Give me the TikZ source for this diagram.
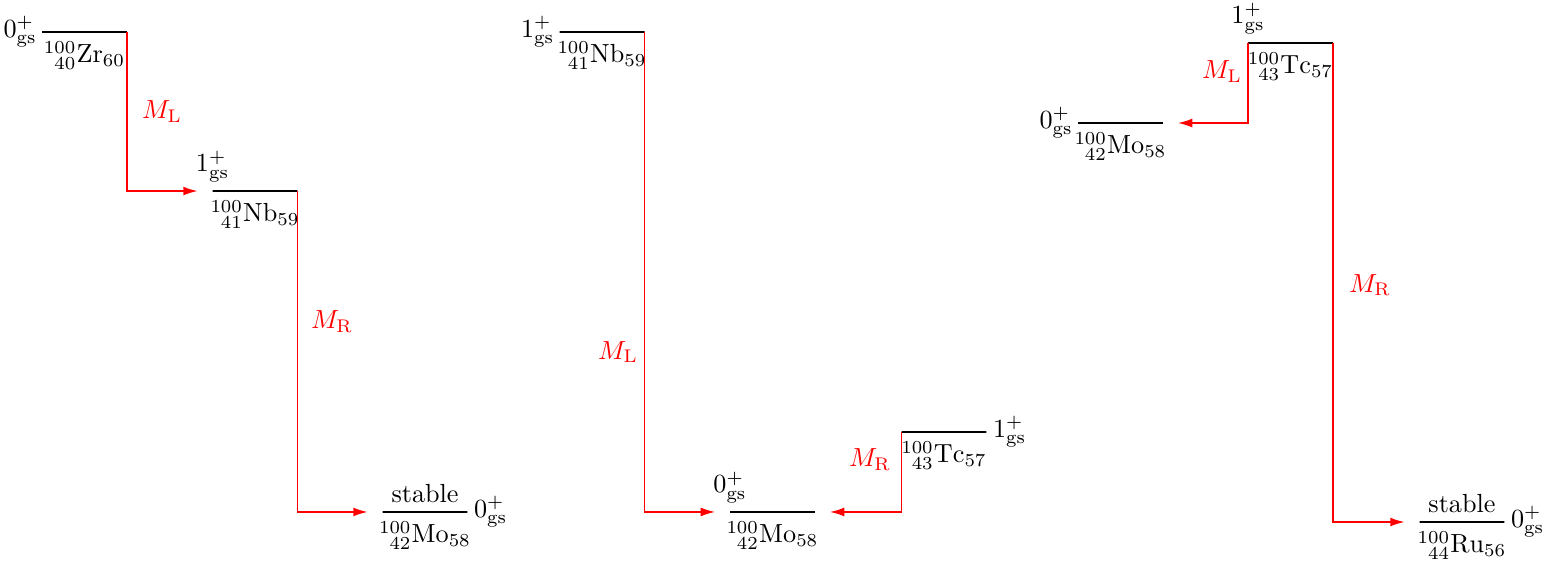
\documentclass[tikz,border=0pt]{standalone}
\usepackage{amsmath,amssymb}
\usepackage{tikz}
\usetikzlibrary{arrows.meta, positioning}

\begin{document}
\begin{tikzpicture}[>={Latex[length=5.5pt,width=3.4pt]},
  level/.style={draw, line width=0.6pt, minimum width=1.14cm, minimum height=0pt, inner sep=0pt, outer sep=0pt},
  decay/.style={->, red, line width=0.6pt, shorten >=0.2cm},
  mlab/.style={red}]
\useasboundingbox (0,0) rectangle (20.765,-7.584);

% 100Zr -> 100Nb -> 100Mo
\node[level] (zr) at (1.134,-0.43) {};
\node[left=-1.5pt of zr] {$0^+_{\mathrm{gs}}$};
\node[below=0pt of zr] {${}^{100}_{\hphantom{1}40}\mathrm{Zr}_{60}$};
\node[level] (nbA) at (3.423,-2.564) {};
\node[above=0pt of nbA.west] {$1^+_{\mathrm{gs}}$};
\node[below=0pt of nbA] {${}^{100}_{\hphantom{1}41}\mathrm{Nb}_{59}$};
\node[level] (moA) at (5.705,-6.872) {};
\node[above=0pt of moA] {stable};
\node[right=-1pt of moA] {$0^+_{\mathrm{gs}}$};
\node[below=0pt of moA] {${}^{100}_{\hphantom{1}42}\mathrm{Mo}_{58}$};
\draw[decay] (zr.east) |- (nbA.west);
\draw[decay] (nbA.east) |- (moA.west);
\node[mlab] (mlA) at (2.174,-1.503) {$M_{\mathrm{L}}$};
\node[mlab] (mrA) at (4.456,-4.322) {$M_{\mathrm{R}}$};

% 100Nb -> 100Mo <- 100Tc
\node[level] (nbB) at (8.081,-0.43) {};
\node[left=-1.5pt of nbB] {$1^+_{\mathrm{gs}}$};
\node[below=0pt of nbB] {${}^{100}_{\hphantom{1}41}\mathrm{Nb}_{59}$};
\node[level] (moB) at (10.369,-6.872) {};
\node[above=0pt of moB.west] {$0^+_{\mathrm{gs}}$};
\node[below=0pt of moB] {${}^{100}_{\hphantom{1}42}\mathrm{Mo}_{58}$};
\node[level] (tcB) at (12.671,-5.799) {};
\node[right=-1pt of tcB] {$1^+_{\mathrm{gs}}$};
\node[below=0pt of tcB] {${}^{100}_{\hphantom{1}43}\mathrm{Tc}_{57}$};
\draw[decay] (nbB.east) |- (moB.west);
\draw[decay] (tcB.west) |- (moB.east);
\node[mlab] (mlB) at (8.295,-4.725) {$M_{\mathrm{L}}$};
\node[mlab] (mrB) at (11.678,-6.174) {$M_{\mathrm{R}}$};

% 100Mo <- 100Tc -> 100Ru
\node[level] (tcC) at (17.322,-0.577) {};
\node[above=0pt of tcC.west] {$1^+_{\mathrm{gs}}$};
\node[below=0pt of tcC] {${}^{100}_{\hphantom{1}43}\mathrm{Tc}_{57}$};
\node[level] (moC) at (15.040,-1.651) {};
\node[left=-1.5pt of moC] {$0^+_{\mathrm{gs}}$};
\node[below=0pt of moC] {${}^{100}_{\hphantom{1}42}\mathrm{Mo}_{58}$};
\node[level] (ruC) at (19.624,-7.007) {};
\node[above=0pt of ruC] {stable};
\node[right=-1pt of ruC] {$0^+_{\mathrm{gs}}$};
\node[below=0pt of ruC] {${}^{100}_{\hphantom{1}44}\mathrm{Ru}_{56}$};
\draw[decay] (tcC.west) |- (moC.east);
\draw[decay] (tcC.east) |- (ruC.west);
\node[mlab] (mlC) at (16.403,-0.966) {$M_{\mathrm{L}}$};
\node[mlab] (mrC) at (18.389,-3.826) {$M_{\mathrm{R}}$};
\end{tikzpicture}
\end{document}
